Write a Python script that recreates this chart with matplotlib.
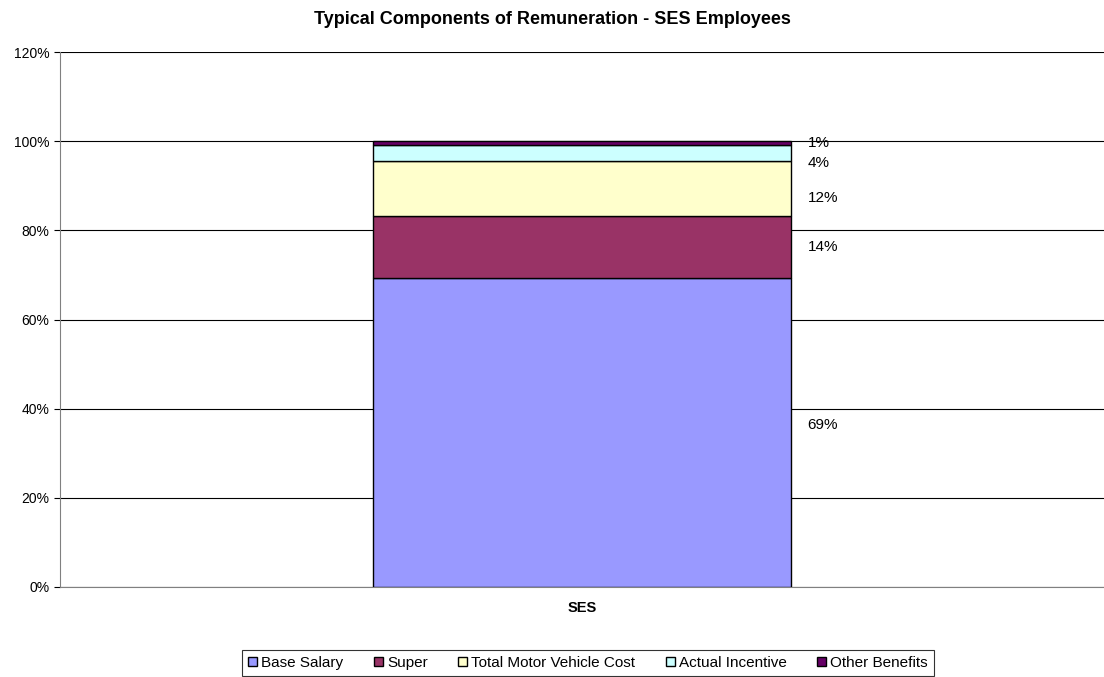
import numpy as np
import matplotlib.pyplot as plt
from matplotlib.ticker import PercentFormatter

plt.rcParams['font.family'] = ['Liberation Sans', 'DejaVu Sans']

categories = ['SES']
components = ['Base Salary', 'Super', 'Total Motor Vehicle Cost',
              'Actual Incentive', 'Other Benefits']
shares = [69.4, 13.9, 12.2, 3.6, 0.9]
colors = ['#9999FF', '#993366', '#FFFFCC', '#CCFFFF', '#660066']
# vertical nudges (points) for the value labels so the small ones don't collide
label_nudge = [5, 0, -7, -7, 0]

fig = plt.figure(figsize=(11.04, 6.77), dpi=100)
ax = fig.add_axes([60 / 1104, 1 - 587 / 677, 1044 / 1104, 535 / 677])

x = np.arange(len(categories))
bottom = 0.0
for name, v, c, dy in zip(components, shares, colors, label_nudge):
    ax.bar(x, v, width=0.4, bottom=bottom, color=c, edgecolor='black',
           linewidth=1, label=name, zorder=3)
    ax.annotate(f'{round(v)}%', (x[0] + 0.2, bottom + v / 2),
                xytext=(12, dy), textcoords='offset points',
                ha='left', va='center', fontsize=11)
    bottom += v

ax.set_xlim(-0.5, 0.5)
ax.set_ylim(0, 120)
ax.set_yticks(range(0, 121, 20))
ax.yaxis.set_major_formatter(PercentFormatter(decimals=0))
ax.set_xticks(x)
ax.set_xticklabels(categories, fontweight='bold')
ax.tick_params(axis='x', length=0, pad=10, labelsize=10.5)
ax.tick_params(axis='y', length=4, direction='out', labelsize=10)
ax.grid(axis='y', color='black', linewidth=0.8, zorder=0)
for s in ['top', 'right']:
    ax.spines[s].set_visible(False)
ax.spines['left'].set_color('#808080')
ax.spines['bottom'].set_color('#808080')

fig.text(0.5, 1 - 20 / 677, 'Typical Components of Remuneration - SES Employees',
         ha='center', va='center', fontsize=13, fontweight='bold')

leg = fig.legend(loc='center', bbox_to_anchor=(588 / 1104, 1 - 663 / 677),
                 ncol=5, frameon=True, fancybox=False, edgecolor='black',
                 fontsize=11, handlelength=0.6, handleheight=0.6,
                 handletextpad=0.25, columnspacing=2.0, borderpad=0.4,
                 borderaxespad=0)
leg.get_frame().set_linewidth(0.8)

plt.savefig('out.png', dpi=100)
